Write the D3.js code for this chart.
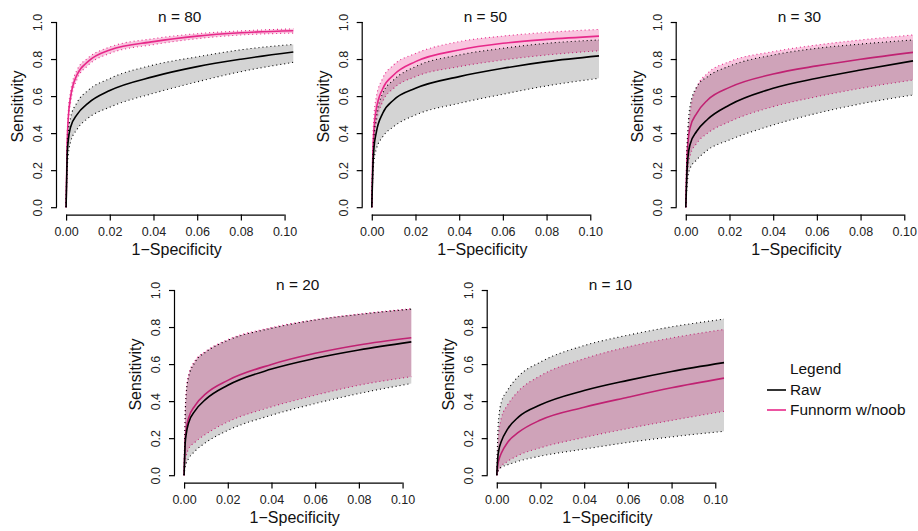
<!DOCTYPE html>
<html><head><meta charset="utf-8">
<script src="https://cdn.jsdelivr.net/npm/d3@7"></script>
<style>
html,body{margin:0;padding:0;background:#fff;}
svg{display:block;font-family:"Liberation Sans",Arial,Helvetica,sans-serif;}
</style></head>
<body><svg id="c" width="918" height="531"></svg>
<script>
// ---- data ----
const panelTitles = ["n = 80", "n = 50", "n = 30", "n = 20", "n = 10"];
const fpr = [0, 0.0005, 0.001, 0.002, 0.005, 0.01, 0.02, 0.04, 0.06, 0.08, 0.104];
const xTicks = [0, 0.02, 0.04, 0.06, 0.08, 0.10];
const yTicks = [0, 0.2, 0.4, 0.6, 0.8, 1.0];
const seriesNames = ["Raw", "Funnorm w/noob"];
// Raw (black)
const rawMid = [
  [0, .28, .36, .43, .50, .561, .63, .705, .759, .799, .838],
  [0, .22, .32, .40, .507, .579, .642, .705, .75, .786, .817],
  [0, .18, .27, .34, .41, .475, .552, .642, .696, .741, .79],
  [0, .17, .225, .28, .347, .411, .486, .573, .631, .676, .72],
  [0, .10, .14, .18, .25, .315, .38, .457, .512, .56, .608]
];
const rawHi = [
  [0, .30, .40, .48, .565, .63, .695, .768, .812, .85, .879],
  [0, .27, .38, .48, .615, .687, .759, .822, .858, .885, .903],
  [0, .30, .43, .55, .65, .705, .762, .822, .858, .881, .903],
  [0, .32, .44, .525, .61, .665, .728, .793, .838, .868, .897],
  [0, .24, .32, .39, .46, .535, .611, .70, .756, .801, .843]
];
const rawLo = [
  [0, .20, .28, .35, .42, .48, .54, .615, .677, .732, .782],
  [0, .17, .25, .31, .38, .435, .498, .561, .61, .655, .696],
  [0, .10, .165, .21, .255, .309, .363, .444, .507, .558, .606],
  [0, .045, .065, .088, .13, .177, .242, .324, .387, .441, .495],
  [0, .02, .03, .042, .056, .076, .103, .141, .177, .207, .237]
];
// Funnorm w/noob (pink)
const fnMid = [
  [0, .35, .48, .59, .715, .786, .849, .894, .924, .942, .953],
  [0, .30, .42, .525, .64, .714, .786, .849, .885, .906, .924],
  [0, .25, .35, .43, .507, .579, .647, .719, .763, .799, .836],
  [0, .19, .25, .306, .376, .44, .512, .598, .658, .703, .742],
  [0, .06, .085, .117, .178, .232, .298, .367, .421, .472, .524]
];
const fnHi = [
  [0, .38, .52, .62, .74, .805, .865, .91, .937, .952, .963],
  [0, .36, .49, .59, .696, .768, .83, .894, .924, .944, .96],
  [0, .28, .39, .51, .647, .723, .786, .84, .876, .903, .93],
  [0, .34, .46, .54, .618, .67, .732, .797, .84, .87, .899],
  [0, .18, .24, .305, .38, .455, .537, .629, .693, .741, .787]
];
const fnLo = [
  [0, .32, .45, .56, .69, .765, .83, .878, .91, .93, .94],
  [0, .25, .35, .45, .57, .642, .705, .759, .795, .822, .845],
  [0, .15, .21, .28, .345, .40, .462, .543, .597, .642, .687],
  [0, .07, .105, .14, .178, .222, .288, .369, .432, .486, .532],
  [0, .02, .03, .048, .075, .108, .148, .204, .252, .296, .345]
];

// ---- layout ----
const panelLeft = [57, 362.7, 676.7, 175, 487.7];
const panelTop = [14.6, 14.6, 14.6, 282.6, 282.6];
const plotW = 245.4, plotH = 200;
const pinkLine = "#E7298A";
const pinkFill = "rgba(231,41,138,0.27)";
const grayFill = "rgba(0,0,0,0.17)";

const svg = d3.select("#c");

panelTitles.forEach((title, i) => {
  const L = panelLeft[i], T = panelTop[i];
  const x = d3.scaleLinear().domain([-0.00416, 0.10816]).range([L, L + plotW]);
  const y = d3.scaleLinear().domain([-0.04, 1.04]).range([T + plotH, T]);
  const g = svg.append("g");
  const clipId = "clip" + i;
  g.append("clipPath").attr("id", clipId).append("rect")
    .attr("x", L).attr("y", T).attr("width", plotW).attr("height", plotH);
  const pg = g.append("g").attr("clip-path", `url(#${clipId})`);

  const area = (lo, hi) => d3.area().x((d, k) => x(fpr[k])).y0((d, k) => y(lo[k])).y1((d, k) => y(hi[k])).curve(d3.curveMonotoneX)(fpr);
  const line = arr => d3.line().x((d, k) => x(fpr[k])).y((d, k) => y(arr[k])).curve(d3.curveMonotoneX)(fpr);

  // pink layer
  pg.append("path").attr("d", area(fnLo[i], fnHi[i])).attr("fill", pinkFill);
  pg.append("path").attr("d", line(fnMid[i])).attr("fill", "none").attr("stroke", pinkLine).attr("stroke-width", 1.6);
  [fnLo[i], fnHi[i]].forEach(a => pg.append("path").attr("d", line(a)).attr("fill", "none")
    .attr("stroke", pinkLine).attr("stroke-width", 1.1).attr("stroke-dasharray", "1,3"));
  // gray layer
  pg.append("path").attr("d", area(rawLo[i], rawHi[i])).attr("fill", grayFill);
  pg.append("path").attr("d", line(rawMid[i])).attr("fill", "none").attr("stroke", "#000").attr("stroke-width", 1.6);
  [rawLo[i], rawHi[i]].forEach(a => pg.append("path").attr("d", line(a)).attr("fill", "none")
    .attr("stroke", "#000").attr("stroke-width", 1.1).attr("stroke-dasharray", "1,3"));

  // axes
  const xa = g.append("g").attr("transform", `translate(0,${T + plotH})`)
    .call(d3.axisBottom(x).tickValues(xTicks).tickFormat(d3.format(".2f")).tickSize(6).tickSizeOuter(0));
  xa.select(".domain").attr("d", `M${x(0)},0.5H${x(0.1)}`);
  xa.selectAll("text").attr("font-size", 12.5).attr("dy", 0).attr("y", 21.5).attr("fill", "#222");
  const ya = g.append("g").attr("transform", `translate(${L},0)`)
    .call(d3.axisLeft(y).tickValues(yTicks).tickFormat(d3.format(".1f")).tickSize(6).tickSizeOuter(0));
  ya.select(".domain").attr("d", `M-0.5,${y(0)}V${y(1)}`);
  ya.selectAll(".tick text").attr("font-size", 12.5).attr("x", 0).attr("dy", 0)
    .attr("text-anchor", "middle").attr("transform", "translate(-15,0) rotate(-90)").attr("fill", "#222");
  g.selectAll(".domain, .tick line").attr("stroke", "#000").attr("stroke-width", 1.2);

  g.append("text").attr("x", L + plotW / 2).attr("y", T + 7).attr("text-anchor", "middle")
    .attr("font-size", 15.4).attr("fill", "#111").text(title);
  g.append("text").attr("x", L + plotW / 2 - 3).attr("y", T + plotH + 40).attr("text-anchor", "middle")
    .attr("font-size", 16).attr("fill", "#111").text("1\u2212Specificity");
  g.append("text").attr("transform", `translate(${L - 34},${T + plotH / 2 - 8}) rotate(-90)`).attr("text-anchor", "middle")
    .attr("font-size", 16).attr("fill", "#111").text("Sensitivity");
});

// legend
const lg = svg.append("g");
lg.append("text").attr("x", 790).attr("y", 374).attr("font-size", 15.4).attr("fill", "#111").text("Legend");
const legColors = ["#000", pinkLine];
seriesNames.forEach((s, k) => {
  const yy = 390 + k * 20;
  lg.append("line").attr("x1", 767).attr("x2", 786).attr("y1", yy).attr("y2", yy)
    .attr("stroke", legColors[k]).attr("stroke-width", 1.6);
  lg.append("text").attr("x", 790).attr("y", yy + 5).attr("font-size", 15.4).attr("fill", "#111").text(s);
});
</script></body></html>
